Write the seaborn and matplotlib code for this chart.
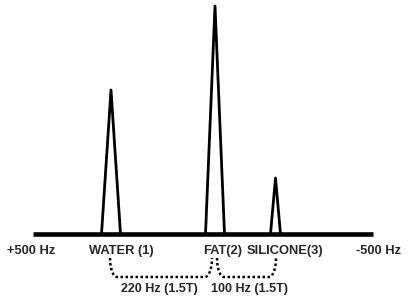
import matplotlib
matplotlib.use("Agg")
import matplotlib.pyplot as plt
import seaborn as sns
import pandas as pd
import numpy as np

# ---- data (diagram units: x in px-like units, y up from bottom) ----
peak_names = ["WATER (1)", "FAT(2)", "SILICONE(3)"]
peak_center = [111, 215, 275.5]
peak_height = [144, 228, 56]
peak_halfwidth = [9.5, 9.5, 5]
label_x = [121.5, 223, 285]

axis_labels = ["+500 Hz", "-500 Hz"]
axis_ends = [33, 373]
axis_label_x = [31.5, 379]

gap_labels = ["220 Hz (1.5T)", "100 Hz (1.5T)"]
gap_start = [110, 217]
gap_end = [212, 276]
gap_label_x = [159.5, 249.5]

baseline_y = 67

sns.set_theme(style="white")
plt.rcParams['font.family'] = ['Liberation Sans', 'DejaVu Sans']

fig = plt.figure(figsize=(4.08, 3.01), dpi=100)
ax = fig.add_axes([0, 0, 1, 1])
ax.set_xlim(0, 408)
ax.set_ylim(0, 301)
ax.axis("off")

rows = []
for name, c, h, w in zip(peak_names, peak_center, peak_height, peak_halfwidth):
    for i, (x, y) in enumerate([(c - w, baseline_y), (c, baseline_y + h), (c + w, baseline_y)]):
        rows.append({"peak": name, "order": i, "x": x, "y": y})
df = pd.DataFrame(rows)

sns.lineplot(data=df, x="x", y="y", units="peak", estimator=None, sort=False,
             color="black", linewidth=2.0, ax=ax, legend=False)

base = pd.DataFrame({"x": axis_ends, "y": [baseline_y, baseline_y]})
sns.lineplot(data=base, x="x", y="y", color="black", linewidth=3.3, ax=ax,
             legend=False, solid_capstyle="butt")

text_y = 50
fs = 9.3
for name, x in zip(peak_names, label_x):
    ax.text(x, text_y, name, ha="center", va="center", fontsize=fs, fontweight="bold")
ax.text(axis_label_x[0], text_y, axis_labels[0], ha="center", va="center", fontsize=fs, fontweight="bold")
ax.text(axis_label_x[1], text_y, axis_labels[1], ha="center", va="center", fontsize=fs, fontweight="bold")

top = 43
bot = 24
for x0, x1, lab, lx in zip(gap_start, gap_end, gap_labels, gap_label_x):
    t = np.linspace(0, 1, 12)
    lxs = x0 + 7 * (1 - np.cos(t * np.pi / 2))
    lys = top - (top - bot) * np.sin(t * np.pi / 2)
    rxs = x1 - 7 * (1 - np.cos(t[::-1] * np.pi / 2))
    rys = top - (top - bot) * np.sin(t[::-1] * np.pi / 2)
    xs = np.concatenate([lxs, rxs])
    ys = np.concatenate([lys, rys])
    ax.plot(xs, ys, color="black", linewidth=1.8, linestyle=(0, (1, 1.0)))
    ax.text(lx, 12, lab, ha="center", va="center", fontsize=9.0, fontweight="bold")

fig.savefig("out.png", dpi=100, facecolor="white")
